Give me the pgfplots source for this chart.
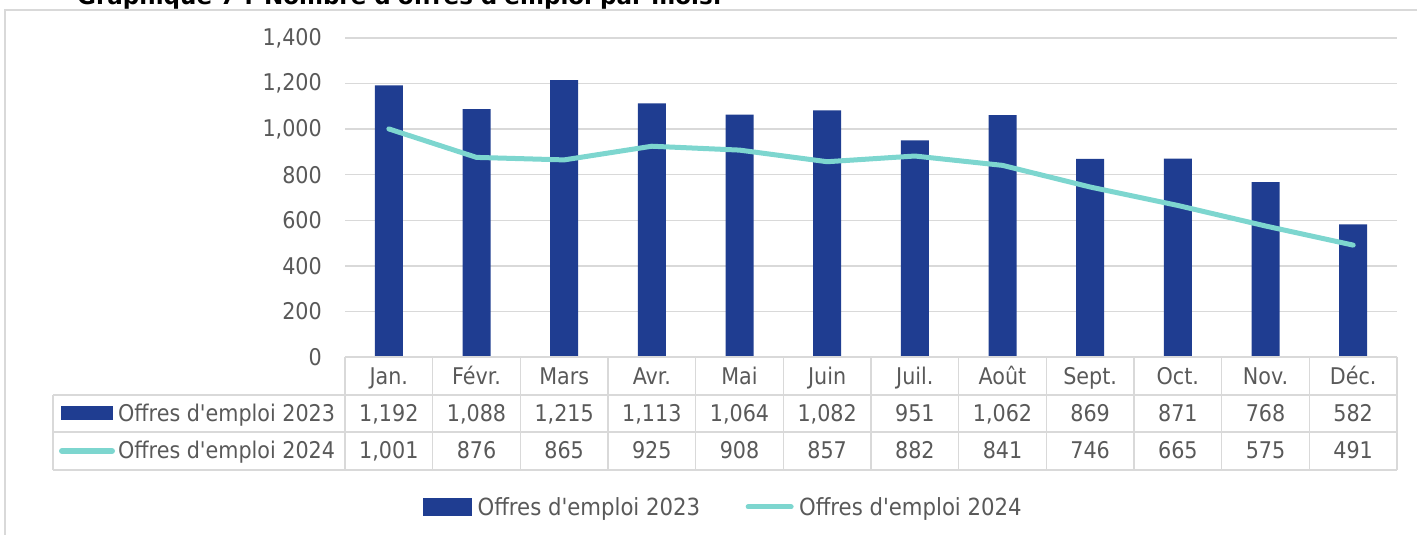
\documentclass[border=0pt]{standalone}
\usepackage{pgfplots}
\pgfplotsset{compat=1.18}
\usepackage{pgfplotstable}
\usepackage{fontspec}
\setmainfont{DejaVu Sans Condensed}[Ligatures=TeXOff]
\newfontfamily\titlefont{DejaVu Sans}[Ligatures=TeXOff]
\definecolor{bar23}{RGB}{31,61,145}
\definecolor{line24}{RGB}{125,214,207}
\definecolor{txt}{RGB}{89,89,89}
\definecolor{grd}{RGB}{217,217,217}

\pgfplotstableread{
x m v23 v24
0 Jan. 1192 1001
1 Févr. 1088 876
2 Mars 1215 865
3 Avr. 1113 925
4 Mai 1064 908
5 Juin 1082 857
6 Juil. 951 882
7 Août 1062 841
8 Sept. 869 746
9 Oct. 871 665
10 Nov. 768 575
11 Déc. 582 491
}\data

\begin{document}
\begin{tikzpicture}[font=\fontsize{23pt}{27pt}\selectfont, x=1pt, y=1pt]
\begin{scope}
\clip (0,0) rectangle (1417,535);
\draw[grd, line width=1.5pt] (5,-10) -- (5,525) -- (1430,525);
\node[anchor=base west, inner sep=0pt, text=black, font=\titlefont\bfseries\fontsize{23pt}{27pt}\selectfont] at (77,530) {Graphique 7 : Nombre d'offres d'emploi par mois.};
\begin{axis}[
  at={(345pt,178pt)}, anchor=south west,
  scale only axis, width=1052pt, height=319pt,
  xmin=-0.5, xmax=11.5, ymin=0, ymax=1400,
  axis line style={draw=none},
  ytick={0,200,...,1400},
  xtick={0,...,11},
  xticklabels from table={\data}{m},
  ymajorgrids, grid style={grd, line width=1.5pt},
  major tick length=0pt, tick style={draw=none},
  xticklabel style={anchor=base, yshift=-28pt, text=txt},
  yticklabel style={anchor=east, inner sep=0pt, xshift=-23pt, text=txt},
  clip=false,
  legend style={at={(axis description cs:0.0741,-0.47)}, anchor=west, draw=none, fill=none,
    inner sep=0pt, legend columns=2,
    /tikz/every even column/.append style={column sep=40pt},
    nodes={inner sep=5.5pt, text=txt, font=\fontsize{23.6pt}{27pt}\selectfont}},
  legend cell align=left,
  /pgf/number format/1000 sep={,},
  /pgf/number format/assume math mode=true,
]
\addplot[ybar, bar width=28pt, fill=bar23, draw=none,
  legend image code/.code={\fill[bar23] (0pt,-9pt) rectangle (49pt,9pt);}]
  table[x=x, y=v23]{\data};
\addplot[line24, line width=5pt, line cap=round, line join=round, mark=none,
  legend image code/.code={\draw[line24, line width=5pt, line cap=round] (2pt,0pt) -- (45pt,0pt);}]
  table[x=x, y=v24]{\data};
\addplot[draw=none, forget plot, nodes near coords, point meta=explicit,
  every node near coord/.append style={anchor=base, text=txt, inner sep=0pt}]
  table[x=x, y expr=-283, meta=v23]{\data};
\addplot[draw=none, forget plot, nodes near coords, point meta=explicit,
  every node near coord/.append style={anchor=base, text=txt, inner sep=0pt}]
  table[x=x, y expr=-447.6, meta=v24]{\data};
\legend{Offres d'emploi 2023, Offres d'emploi 2024}
\end{axis}
\draw[grd, line width=1.5pt] (345,178) -- (1397,178);
\draw[grd, line width=1.5pt] (53,140) -- (1397,140);
\draw[grd, line width=1.5pt] (53,103) -- (1397,103);
\draw[grd, line width=1.5pt] (53,65) -- (1397,65);
\draw[grd, line width=1.5pt] (53,140) -- (53,65);
\foreach \k in {0,...,12} {
  \draw[grd, line width=1.5pt] ({345+87.6667*\k},178) -- ({345+87.6667*\k},65);
}
\fill[bar23] (61,115) rectangle (113,129);
\draw[line24, line width=6pt, line cap=round] (62,84) -- (112,84);
\node[anchor=base west, inner sep=0pt, text=txt] at (118,113.5) {Offres d'emploi 2023};
\node[anchor=base west, inner sep=0pt, text=txt] at (118,76) {Offres d'emploi 2024};
\end{scope}
\pgfresetboundingbox
\useasboundingbox (0,0) rectangle (1417,535);
\end{tikzpicture}
\end{document}
